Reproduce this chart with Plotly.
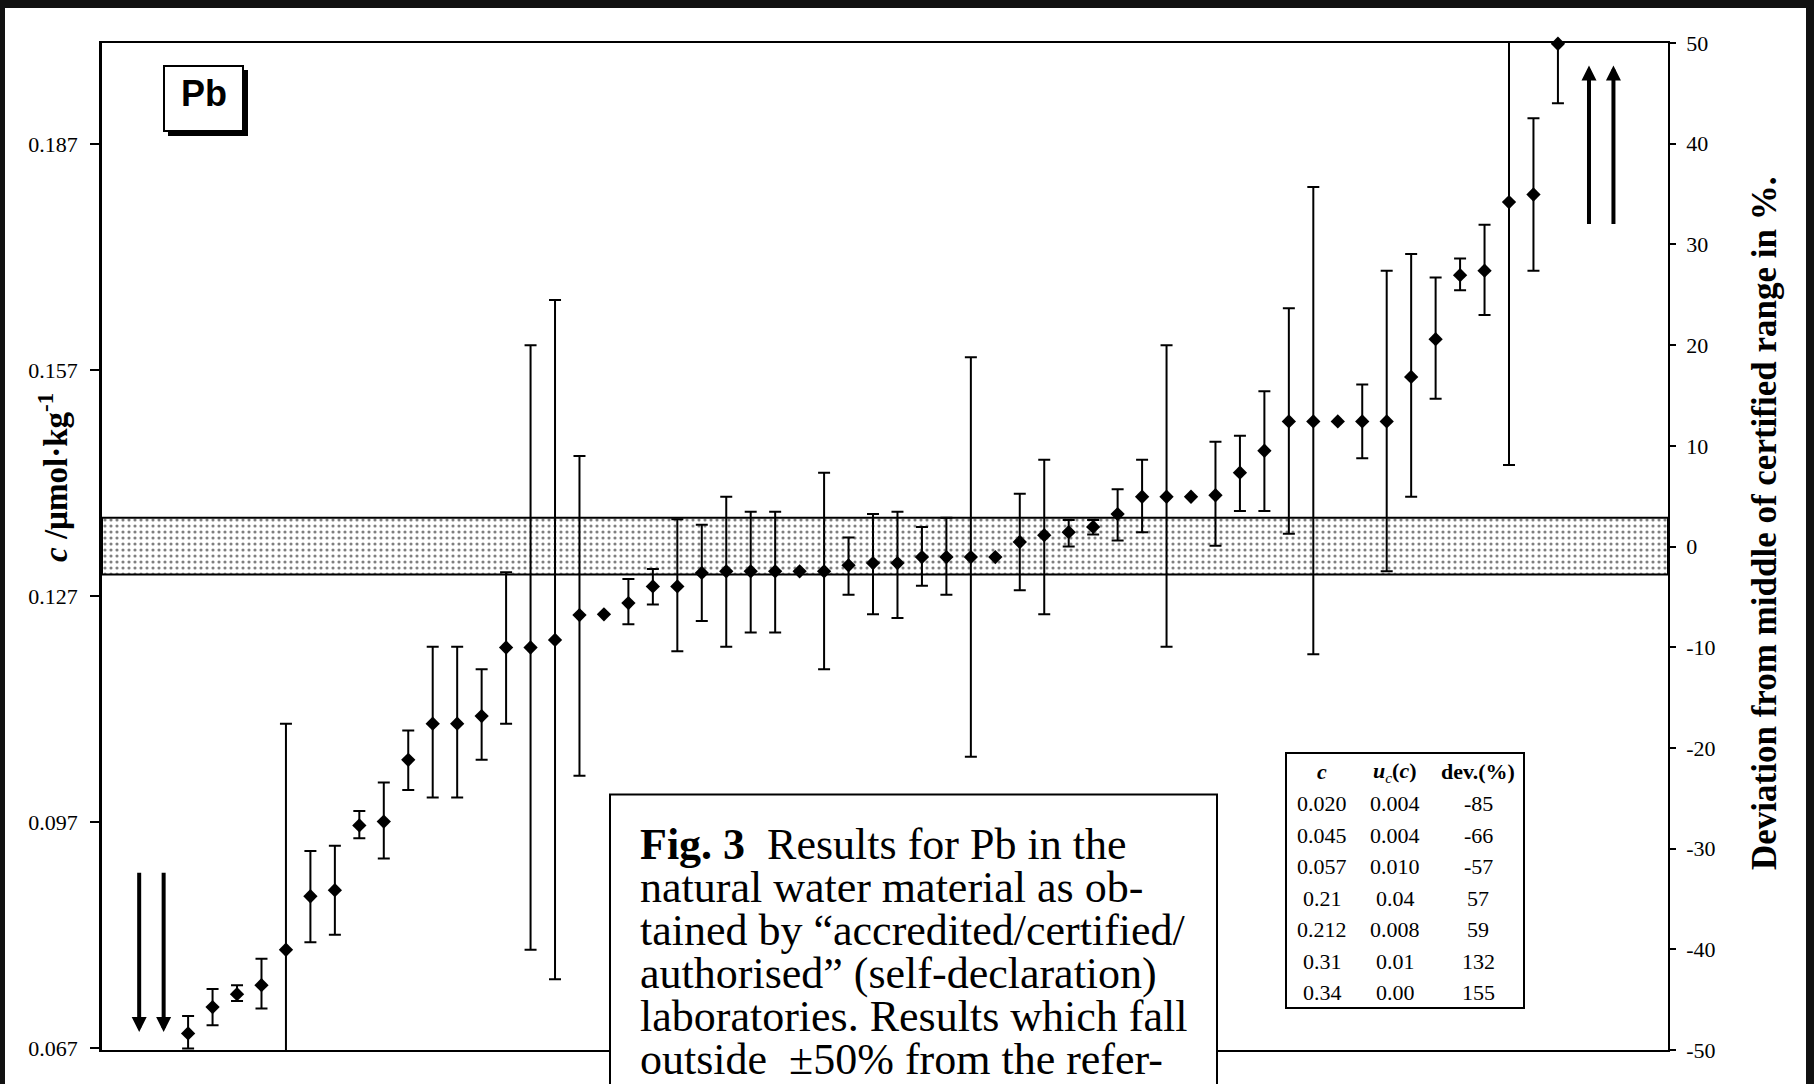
import plotly.graph_objects as go

# ---------------- data (c in umol/kg) ----------------
labs = list(range(3, 60))
conc = [0.0690, 0.0725, 0.0742, 0.0754, 0.0801, 0.0872, 0.0880, 0.0966, 0.0971, 0.1053,
        0.1101, 0.1101, 0.1111, 0.1202, 0.1202, 0.1212, 0.1245, 0.1246, 0.1261, 0.1283,
        0.1283, 0.1301, 0.1303, 0.1303, 0.1303, 0.1303, 0.1303, 0.1311, 0.1314, 0.1314,
        0.1322, 0.1322, 0.1322, 0.1322, 0.1342, 0.1351, 0.1355, 0.1362, 0.1379, 0.1402,
        0.1402, 0.1402, 0.1404, 0.1434, 0.1463, 0.1502, 0.1502, 0.1502, 0.1502, 0.1502,
        0.1561, 0.1611, 0.1696, 0.1702, 0.1793, 0.1803, 0.2003]
upper = [0.0713, 0.0749, 0.0754, 0.0789, 0.1101, 0.0932, 0.0939, 0.0985, 0.1023, 0.1092,
         0.1203, 0.1203, 0.1173, 0.1302, 0.1603, 0.1663, 0.1456, None, 0.1293, 0.1306,
         0.1372, 0.1365, 0.1402, 0.1382, 0.1382, None, 0.1434, 0.1348, 0.1379, 0.1382,
         0.1362, 0.1374, 0.1587, None, 0.1406, 0.1451, 0.1371, 0.1371, 0.1412, 0.1451,
         0.1603, None, 0.1475, 0.1483, 0.1542, 0.1652, 0.1813, None, 0.1551, 0.1702,
         0.1724, 0.1693, 0.1718, 0.1763, 0.2018, 0.1904, 0.2018]
lower = [0.0670, 0.0701, 0.0733, 0.0723, 0.0659, 0.0811, 0.0821, 0.0949, 0.0922, 0.1013,
         0.1003, 0.1003, 0.1053, 0.1101, 0.0801, 0.0762, 0.1032, None, 0.1233, 0.1259,
         0.1197, 0.1237, 0.1203, 0.1222, 0.1222, None, 0.1173, 0.1272, 0.1246, 0.1241,
         0.1284, 0.1272, 0.1057, None, 0.1278, 0.1246, 0.1336, 0.1352, 0.1344, 0.1355,
         0.1203, None, 0.1337, 0.1383, 0.1383, 0.1353, 0.1193, None, 0.1453, 0.1303,
         0.1402, 0.1532, 0.1676, 0.1643, 0.1444, 0.1702, 0.1924]

low_outlier_labs = [1, 2]
high_outlier_labs = [60, 61]
low_arrow = (0.0905, 0.0692)    # tail, head
high_arrow = (0.1762, 0.1974)   # tail, head

ref_c = 0.1336
band = (0.1299, 0.1374)

left_ticks = [0.067, 0.097, 0.127, 0.157, 0.187]
right_ticks = [-50, -40, -30, -20, -10, 0, 10, 20, 30, 40, 50]

table_c = ["0.020", "0.045", "0.057", "0.21", "0.212", "0.31", "0.34"]
table_u = ["0.004", "0.004", "0.010", "0.04", "0.008", "0.01", "0.00"]
table_dev = ["-85", "-66", "-57", "57", "59", "132", "155"]

caption = ["<b>Fig. 3</b>\u00a0\u00a0Results for Pb in the",
           "natural water material as ob-",
           "tained by \u201caccredited/certified/",
           "authorised\u201d (self-declaration)",
           "laboratories. Results which fall",
           "outside\u00a0\u00a0\u00b150% from the refer-"]

# ---------------- layout geometry ----------------
W, H = 1814, 1084
L, R, T, B = 102, 1668, 43, 1050
X_RANGE = [-0.52, 63.5]
Y_RANGE = [ref_c * 0.5, ref_c * 1.5]


def px(x):
    return (x - L) / (R - L)


def py(y):
    return (B - y) / (B - T)


SERIF = "Liberation Serif, Times New Roman, serif"
fig = go.Figure()

# certified band
fig.add_trace(go.Scatter(
    x=[X_RANGE[0], X_RANGE[1], X_RANGE[1], X_RANGE[0], X_RANGE[0]],
    y=[band[0], band[0], band[1], band[1], band[0]],
    mode="lines", fill="toself", fillcolor="white",
    fillpattern=dict(shape=".", size=6, solidity=0.22, fgcolor="black", bgcolor="white"),
    line=dict(color="black", width=2), hoverinfo="skip", showlegend=False))

# points with / without error bars
bx, by, bp, bm = [], [], [], []
nx, ny = [], []
for lab, c, u, lo in zip(labs, conc, upper, lower):
    if u is None:
        nx.append(lab)
        ny.append(c)
    else:
        bx.append(lab)
        by.append(c)
        bp.append(u - c)
        bm.append(c - lo)

fig.add_trace(go.Scatter(
    x=bx, y=by, mode="markers", cliponaxis=False,
    marker=dict(symbol="diamond", size=11, color="black"),
    error_y=dict(type="data", symmetric=False, array=bp, arrayminus=bm,
                 color="black", thickness=2, width=6),
    showlegend=False))
fig.add_trace(go.Scatter(
    x=nx, y=ny, mode="markers", cliponaxis=False,
    marker=dict(symbol="diamond", size=11, color="black"),
    showlegend=False))

# dummy for right axis
fig.add_trace(go.Scatter(x=[None], y=[None], yaxis="y2", showlegend=False, hoverinfo="skip"))

annotations = []
shapes = []

# outlier arrows
for lab in low_outlier_labs:
    annotations.append(dict(x=lab, y=low_arrow[1], ax=lab, ay=low_arrow[0],
                            xref="x", yref="y", axref="x", ayref="y", text="",
                            showarrow=True, arrowhead=2, arrowsize=0.75, arrowwidth=4,
                            arrowcolor="black", standoff=0))
for lab in high_outlier_labs:
    annotations.append(dict(x=lab + 0.27, y=high_arrow[1], ax=lab + 0.27, ay=high_arrow[0],
                            xref="x", yref="y", axref="x", ayref="y", text="",
                            showarrow=True, arrowhead=2, arrowsize=0.75, arrowwidth=4,
                            arrowcolor="black", standoff=0))

# Pb label with shadow
shapes.append(dict(type="rect", xref="paper", yref="paper", x0=px(168), x1=px(248),
                   y0=py(136), y1=py(70), fillcolor="black", line=dict(width=0), layer="above"))
shapes.append(dict(type="rect", xref="paper", yref="paper", x0=px(164), x1=px(243),
                   y0=py(131), y1=py(66), fillcolor="white", line=dict(color="black", width=2),
                   layer="above"))
annotations.append(dict(x=px(204), y=py(93), xref="paper", yref="paper", text="<b>Pb</b>",
                        showarrow=False, xanchor="center", yanchor="middle",
                        font=dict(family="Liberation Sans, Arial, sans-serif", size=36, color="black")))

# table
shapes.append(dict(type="rect", xref="paper", yref="paper", x0=px(1286), x1=px(1524),
                   y0=py(1008), y1=py(753), fillcolor="white", line=dict(color="black", width=2),
                   layer="above"))
col_x = [1322, 1395, 1478]
headers = ["<b><i>c</i></b>", "<b><i>u</i></b><sub><i>c</i></sub><b>(<i>c</i>)</b>", "<b>dev.(%)</b>"]
for cx, htxt in zip(col_x, headers):
    annotations.append(dict(x=px(cx), y=py(772), xref="paper", yref="paper", text=htxt,
                            showarrow=False, xanchor="center", yanchor="middle",
                            font=dict(family=SERIF, size=22, color="black")))
for i, (a, b, d) in enumerate(zip(table_c, table_u, table_dev)):
    yy = 803.5 + i * 31.5
    for cx, txt in zip(col_x, [a, b, d]):
        annotations.append(dict(x=px(cx), y=py(yy), xref="paper", yref="paper", text=txt,
                                showarrow=False, xanchor="center", yanchor="middle",
                                font=dict(family=SERIF, size=22, color="black")))

# caption box
shapes.append(dict(type="rect", xref="paper", yref="paper", x0=px(610), x1=px(1217),
                   y0=py(1110), y1=py(794.5), fillcolor="white", line=dict(color="black", width=2),
                   layer="above"))
for i, line in enumerate(caption):
    annotations.append(dict(x=px(638), y=py(844 + i * 43), xref="paper", yref="paper", text=line,
                            showarrow=False, xanchor="left", yanchor="middle",
                            font=dict(family=SERIF, size=44, color="black")))

# axis titles
annotations.append(dict(x=px(53), y=py(478), xref="paper", yref="paper",
                        text="<b><i>c</i> /\u00b5mol\u00b7kg<sup>-1</sup></b>", textangle=-90,
                        showarrow=False, xanchor="center", yanchor="middle",
                        font=dict(family=SERIF, size=33, color="black")))
annotations.append(dict(x=px(1764), y=py(524), xref="paper", yref="paper",
                        text="<b>Deviation from middle of certified range in %.</b>", textangle=-90,
                        showarrow=False, xanchor="center", yanchor="middle",
                        font=dict(family=SERIF, size=35, color="black")))

# dark scan frame
for x0, x1, y0, y1 in [(0, W, 0, 8), (0, 5, 0, H), (1806, W, 0, H)]:
    shapes.append(dict(type="rect", xref="paper", yref="paper", x0=px(x0), x1=px(x1),
                       y0=py(y1), y1=py(y0), fillcolor="#111111", line=dict(width=0),
                       layer="above"))

fig.update_layout(
    width=W, height=H, autosize=False,
    margin=dict(l=L, r=W - R, t=T, b=H - B, pad=0),
    paper_bgcolor="white", plot_bgcolor="white",
    showlegend=False,
    xaxis=dict(range=X_RANGE, showgrid=False, zeroline=False, showticklabels=False,
               ticks="", showline=True, mirror=True, linecolor="black", linewidth=2),
    yaxis=dict(range=Y_RANGE, showgrid=False, zeroline=False, showline=True,
               linecolor="black", linewidth=2.5, ticks="outside", ticklen=9, tickwidth=2,
               tickcolor="black", tickvals=left_ticks, ticktext=[f"{v:.3f}" for v in left_ticks],
               tickfont=dict(family=SERIF, size=22, color="black"), ticklabelstandoff=8),
    yaxis2=dict(range=[-50, 50], overlaying="y", side="right", showgrid=False, zeroline=False,
                showline=True, linecolor="black", linewidth=1.5, ticks="outside", ticklen=6,
                tickwidth=1.5, tickcolor="black", tickvals=right_ticks,
                ticktext=[str(v) for v in right_ticks],
                tickfont=dict(family=SERIF, size=22, color="black"), ticklabelstandoff=6),
    shapes=shapes, annotations=annotations,
)

fig.write_html("out.html")
